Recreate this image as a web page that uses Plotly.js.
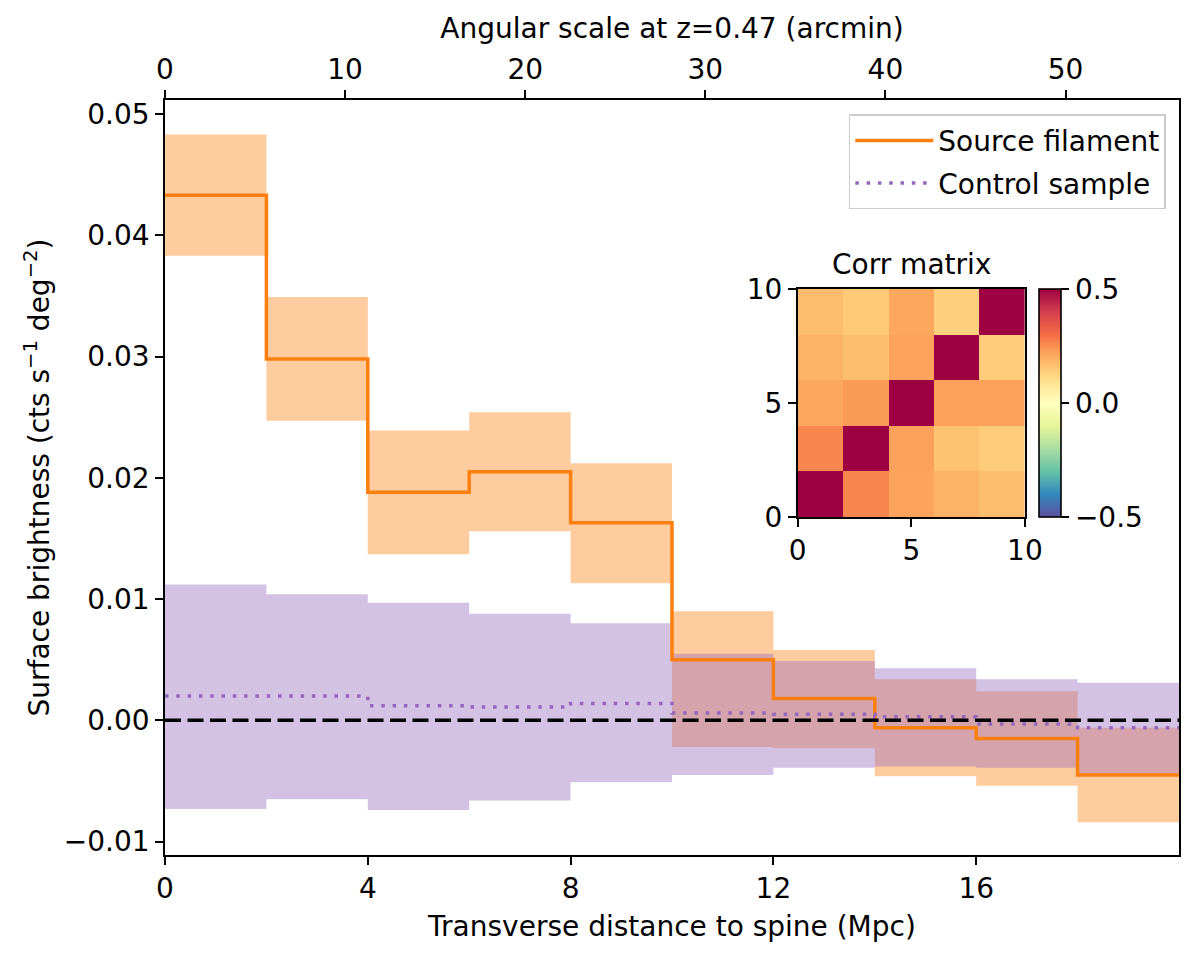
<!DOCTYPE html>
<html>
<head>
<meta charset="utf-8">
<script src="https://cdn.plot.ly/plotly-3.0.1.min.js"></script>
<style>
  body { margin: 0; background: #fff; }
  #myGraph { width: 1200px; height: 963px; }
</style>
</head>
<body>
<div id="myGraph"></div>
<script>
let myGraph = document.getElementById('myGraph');

// bin edges (Mpc), 10 bins of 2 Mpc
let edges = [0, 2, 4, 6, 8, 10, 12, 14, 16, 18, 20];

// source filament profile and its band
let srcVal = [0.0433, 0.0298, 0.0188, 0.0205, 0.0163, 0.0050, 0.0018, -0.0006, -0.0015, -0.0045];
let srcHi  = [0.0483, 0.0349, 0.0239, 0.0254, 0.0212, 0.0090, 0.0058, 0.0034, 0.0024, -0.0006];
let srcLo  = [0.0383, 0.0247, 0.0137, 0.0156, 0.0113, -0.0022, -0.0023, -0.0046, -0.0054, -0.0084];

// control sample profile and its band
let ctlVal = [0.0020, 0.0020, 0.0012, 0.0011, 0.0014, 0.0006, 0.0005, 0.0003, -0.0003, -0.0006];
let ctlHi  = [0.0112, 0.0104, 0.0097, 0.0088, 0.0080, 0.0055, 0.0049, 0.0043, 0.0034, 0.0031];
let ctlLo  = [-0.0073, -0.0065, -0.0074, -0.0066, -0.0051, -0.0045, -0.0039, -0.0038, -0.0039, -0.0045];

// top axis (arcmin)
let arcTicks = [0, 10, 20, 30, 40, 50];

// correlation matrix, rows from bottom (y=1) to top (y=9)
let corrCenters = [1, 3, 5, 7, 9];
let corr = [
  [1.00, 0.26, 0.215, 0.19, 0.17],
  [0.26, 1.00, 0.22, 0.16, 0.14],
  [0.21, 0.23, 1.00, 0.22, 0.22],
  [0.19, 0.17, 0.215, 1.00, 0.14],
  [0.17, 0.145, 0.21, 0.135, 1.00]
];

// matplotlib Spectral_r
let spectralR = [
  [0.0, '#5e4fa2'], [0.1, '#3288bd'], [0.2, '#66c2a5'], [0.3, '#abdda4'],
  [0.4, '#e6f598'], [0.5, '#ffffbf'], [0.6, '#fee08b'], [0.7, '#fdae61'],
  [0.8, '#f46d43'], [0.9, '#d53e4f'], [1.0, '#9e0142']
];

// repeat last value so the 'hv' step covers the last bin
let step = arr => arr.concat([arr[arr.length - 1]]);

let font = 'DejaVu Sans, sans-serif';
let fs = 28;

let bandOpts = {type: 'scatter', mode: 'lines', line: {width: 0, shape: 'hv'},
  hoverinfo: 'skip', showlegend: false};

let srcLoTrace = Object.assign({}, bandOpts, {x: edges, y: step(srcLo), legendgroup: 'a'});
let srcHiTrace = Object.assign({}, bandOpts, {x: edges, y: step(srcHi), fill: 'tonexty',
  fillcolor: 'rgba(255,127,14,0.4)', legendgroup: 'a'});
let ctlLoTrace = Object.assign({}, bandOpts, {x: edges, y: step(ctlLo), legendgroup: 'b'});
let ctlHiTrace = Object.assign({}, bandOpts, {x: edges, y: step(ctlHi), fill: 'tonexty',
  fillcolor: 'rgba(148,103,189,0.4)', legendgroup: 'b'});

let srcLine = {
  type: 'scatter', mode: 'lines', name: 'Source filament', legendgroup: 'a',
  x: edges, y: step(srcVal),
  line: {color: '#ff7f0e', width: 3.5, shape: 'hv'}
};

let ctlLine = {
  type: 'scatter', mode: 'lines', name: 'Control sample', legendgroup: 'b',
  x: edges, y: step(ctlVal),
  line: {color: '#9467bd', width: 3.5, shape: 'hv', dash: '3.5px,7.8px'}
};

// invisible trace so the top axis is drawn
let topDummy = {
  type: 'scatter', mode: 'markers', x: arcTicks, y: arcTicks.map(() => 0),
  xaxis: 'x2', yaxis: 'y', marker: {opacity: 0}, hoverinfo: 'skip', showlegend: false
};

let heat = {
  type: 'heatmap', x: corrCenters, y: corrCenters, z: corr,
  xaxis: 'x3', yaxis: 'y3',
  colorscale: spectralR, zmin: -0.5, zmax: 0.5,
  hoverinfo: 'skip',
  colorbar: {
    x: 0.862, xanchor: 'left', xpad: 0,
    y: 0.4477, yanchor: 'bottom', ypad: 0,
    len: 0.302, lenmode: 'fraction',
    thickness: 22, thicknessmode: 'pixels',
    outlinewidth: 1.6, outlinecolor: '#000',
    ticks: 'outside', ticklen: 8, tickwidth: 1.6, tickcolor: '#000',
    tickvals: [-0.5, 0, 0.5], ticktext: ['\u22120.5', '0.0', '0.5'],
    tickfont: {family: font, size: fs, color: '#000'}
  }
};

let data = [srcLoTrace, srcHiTrace, ctlLoTrace, ctlHiTrace, srcLine, ctlLine, topDummy, heat];

let axisBase = {
  showline: true, linecolor: '#000', linewidth: 1.6,
  ticks: 'outside', ticklen: 8, tickwidth: 1.6, tickcolor: '#000',
  showgrid: false, zeroline: false,
  tickfont: {family: font, size: fs, color: '#000'}
};

let layout = {
  width: 1200, height: 963,
  margin: {l: 165, r: 21, t: 100, b: 108},
  paper_bgcolor: '#fff', plot_bgcolor: '#fff',
  font: {family: font, size: fs, color: '#000'},
  showlegend: true,
  legend: {
    x: 0.987, xanchor: 'right', y: 0.981, yanchor: 'top',
    bgcolor: 'rgba(255,255,255,0.8)', bordercolor: '#cccccc', borderwidth: 1.5,
    font: {family: font, size: fs, color: '#000'},
    traceorder: 'grouped', tracegroupgap: 3, itemwidth: 78
  },
  xaxis: Object.assign({}, axisBase, {
    range: [0, 20], tickvals: [0, 4, 8, 12, 16], mirror: false,
    title: {text: 'Transverse distance to spine (Mpc)', standoff: 12,
      font: {family: font, size: fs, color: '#000'}}
  }),
  xaxis2: Object.assign({}, axisBase, {
    overlaying: 'x', side: 'top', anchor: 'y',
    range: [0, 56.3], tickvals: arcTicks,
    title: {text: 'Angular scale at z=0.47 (arcmin)', standoff: 6,
      font: {family: font, size: fs, color: '#000'}}
  }),
  yaxis: Object.assign({}, axisBase, {
    range: [-0.0111, 0.05115], mirror: true,
    tickvals: [-0.01, 0, 0.01, 0.02, 0.03, 0.04, 0.05], tickformat: '.2f',
    title: {text: 'Surface brightness (cts s<sup>\u22121</sup> deg<sup>\u22122</sup>)', standoff: 6,
      font: {family: font, size: fs, color: '#000'}}
  }),
  xaxis3: Object.assign({}, axisBase, {
    domain: [0.624, 0.848], anchor: 'y3', range: [0, 10],
    tickvals: [0, 5, 10], mirror: true
  }),
  yaxis3: Object.assign({}, axisBase, {
    domain: [0.4477, 0.7497], anchor: 'x3', range: [0, 10],
    tickvals: [0, 5, 10], mirror: true
  }),
  shapes: [{
    type: 'line', xref: 'paper', x0: 0, x1: 1, yref: 'y', y0: 0, y1: 0,
    line: {color: '#000', width: 3.5, dash: '16px,6.5px'}, layer: 'above'
  }],
  annotations: [{
    text: 'Corr matrix', xref: 'paper', yref: 'paper',
    x: 0.736, y: 0.757, xanchor: 'center', yanchor: 'bottom',
    showarrow: false, font: {family: font, size: fs, color: '#000'}
  }]
};

Plotly.newPlot(myGraph, data, layout, {displayModeBar: false});
</script>
</body>
</html>
